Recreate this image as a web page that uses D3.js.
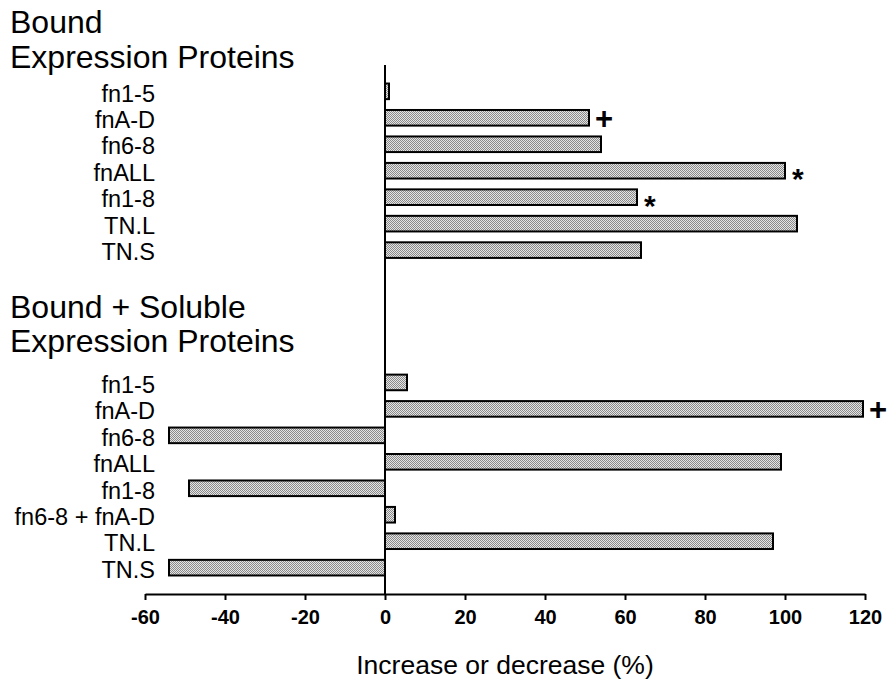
<!DOCTYPE html>
<html>
<head>
<meta charset="utf-8">
<script src="https://cdn.jsdelivr.net/npm/d3@7"></script>
<style>
  body { margin: 0; background: #fff; }
  text { font-family: "Liberation Sans", Arial, sans-serif; fill: #000; }
</style>
</head>
<body>
<div id="chart"></div>
<script>
// data
var boundLabels = ["fn1-5", "fnA-D", "fn6-8", "fnALL", "fn1-8", "TN.L", "TN.S"];
var boundValues = [1, 51, 54, 100, 63, 103, 64];
var boundMarks = ["", "+", "", "*", "*", "", ""];

var solubleLabels = ["fn1-5", "fnA-D", "fn6-8", "fnALL", "fn1-8", "fn6-8 + fnA-D", "TN.L", "TN.S"];
var solubleValues = [5.5, 119.5, -54, 99, -49, 2.5, 97, -54];
var solubleMarks = ["", "+", "", "", "", "", "", ""];

var xTicks = [-60, -40, -20, 0, 20, 40, 60, 80, 100, 120];

var width = 887, height = 685;

// build rows: bound rows, 4 empty rows for the second heading, then bound+soluble rows
var rows = [];
boundLabels.forEach(function (d, i) {
    rows.push({ key: "b" + i, label: d, value: boundValues[i], mark: boundMarks[i] });
});
for (var s = 0; s < 4; s++) rows.push({ key: "s" + s, label: null });
solubleLabels.forEach(function (d, i) {
    rows.push({ key: "u" + i, label: d, value: solubleValues[i], mark: solubleMarks[i] });
});

var x = d3.scaleLinear().domain([-60, 120]).range([145, 865]);
var y = d3.scaleBand()
    .domain(rows.map(function (d) { return d.key; }))
    .range([65, 594])
    .paddingInner(0.41)
    .paddingOuter(0.7);

var svg = d3.select("#chart").append("svg")
    .attr("width", width)
    .attr("height", height);

// stipple fill for the bars (checker dots)
var pat = svg.append("defs").append("pattern")
    .attr("id", "stipple")
    .attr("width", 2).attr("height", 2)
    .attr("patternUnits", "userSpaceOnUse");
pat.append("rect").attr("width", 2).attr("height", 2).attr("fill", "#e4e4e4");
pat.append("rect").attr("x", 0).attr("y", 0).attr("width", 1).attr("height", 1).attr("fill", "#8a8a8a");
pat.append("rect").attr("x", 1).attr("y", 1).attr("width", 1).attr("height", 1).attr("fill", "#8a8a8a");

// headings
var headings = [
    { text: "Bound", y: 33 },
    { text: "Expression Proteins", y: 68 },
    { text: "Bound + Soluble", y: 318 },
    { text: "Expression Proteins", y: 352 }
];
svg.selectAll(".heading").data(headings).enter().append("text")
    .attr("class", "heading")
    .attr("x", 10)
    .attr("y", function (d) { return d.y; })
    .style("font-size", "32px")
    .text(function (d) { return d.text; });

var data = rows.filter(function (d) { return d.label !== null; });

// bars
svg.selectAll(".bar").data(data).enter().append("rect")
    .attr("class", "bar")
    .attr("x", function (d) { return x(Math.min(0, d.value)); })
    .attr("y", function (d) { return y(d.key); })
    .attr("width", function (d) { return Math.abs(x(d.value) - x(0)); })
    .attr("height", y.bandwidth())
    .attr("fill", "url(#stipple)")
    .attr("stroke", "#000")
    .attr("stroke-width", 2);

// category labels
svg.selectAll(".label").data(data).enter().append("text")
    .attr("class", "label")
    .attr("x", 155)
    .attr("y", function (d) { return y(d.key) + y.bandwidth() / 2 + 2; })
    .attr("dy", "0.35em")
    .attr("text-anchor", "end")
    .style("font-size", "23.5px")
    .text(function (d) { return d.label; });

// significance marks
svg.selectAll(".mark").data(data.filter(function (d) { return d.mark; })).enter().append("text")
    .attr("class", "mark")
    .attr("x", function (d) { return x(d.value) + (d.mark == "*" ? 7 : 6); })
    .attr("y", function (d) { return y(d.key) + y.bandwidth() / 2 + (d.mark == "*" ? 8 : 0); })
    .attr("dy", "0.35em")
    .style("font-size", function (d) { return d.mark == "*" ? "30px" : "31px"; })
    .style("font-weight", "bold")
    .text(function (d) { return d.mark; });

// zero line
svg.append("line")
    .attr("x1", x(0)).attr("x2", x(0))
    .attr("y1", 65).attr("y2", 594)
    .attr("stroke", "#000")
    .attr("stroke-width", 2);

// x axis
var xAxis = svg.append("g")
    .attr("transform", "translate(0,594)")
    .call(d3.axisBottom(x).tickValues(xTicks).tickSize(6).tickSizeOuter(0).tickPadding(10)
        .tickFormat(function (d) { return String(d); }));
xAxis.select(".domain").attr("stroke-width", 2);
xAxis.selectAll(".tick line").attr("stroke-width", 2);
xAxis.selectAll(".tick text")
    .style("font-family", "'Liberation Sans', Arial, sans-serif")
    .style("font-size", "20px")
    .style("font-weight", "bold");

svg.append("text")
    .attr("x", x(30))
    .attr("y", 674)
    .attr("text-anchor", "middle")
    .style("font-size", "26.5px")
    .text("Increase or decrease (%)");
</script>
</body>
</html>
